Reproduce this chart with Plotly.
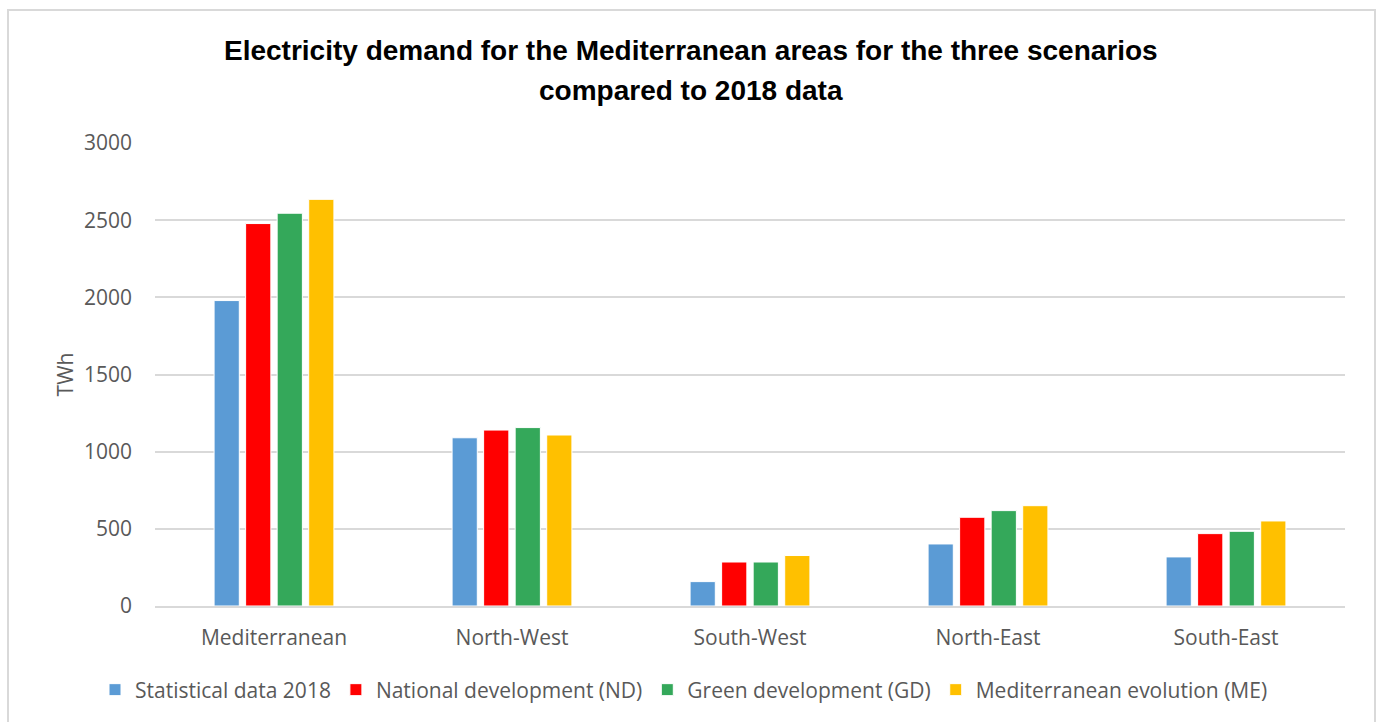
import plotly.graph_objects as go

# Regions and demand (TWh) per scenario
regions = ["Mediterranean", "North-West", "South-West", "North-East", "South-East"]
stat_2018 = [1979, 1090, 158, 402, 318]
national_dev = [2478, 1140, 285, 575, 469]
green_dev = [2545, 1156, 285, 618, 484]
med_evolution = [2635, 1108, 327, 650, 551]

series_names = [
    "Statistical data 2018",
    "National development (ND)",
    "Green development (GD)",
    "Mediterranean evolution (ME)",
]
series_values = [stat_2018, national_dev, green_dev, med_evolution]
series_colors = ["#5b9bd5", "#ff0000", "#34a85a", "#ffc000"]

y_ticks = [0, 500, 1000, 1500, 2000, 2500, 3000]

title_lines = [
    "Electricity demand for the Mediterranean areas for the three scenarios",
    "compared to 2018 data",
]

W, H = 1379, 722
ML, MR, MT, MB = 155, 34, 143, 116

fig = go.Figure()
for name, vals, col in zip(series_names, series_values, series_colors):
    fig.add_trace(go.Bar(
        x=regions, y=vals, name=name,
        marker=dict(color=col, line=dict(color="white", width=1)),
    ))

pw = W - ML - MR
ph = H - MT - MB


def px_x(p):
    return (p - ML) / pw


def px_y(p):
    return (H - MB - p) / ph


# light outer frame around the chart
fig.add_shape(
    type="rect", xref="paper", yref="paper",
    x0=px_x(8), x1=px_x(1375), y0=px_y(730), y1=px_y(10),
    line=dict(color="#d9d9d9", width=2), fillcolor="rgba(0,0,0,0)",
    layer="below",
)

# two-line chart title
for line, ypix in zip(title_lines, [50, 90]):
    fig.add_annotation(
        text="<b>" + line + "</b>", showarrow=False,
        xref="paper", yref="paper", x=px_x(691), y=px_y(ypix),
        xanchor="center", yanchor="middle",
        font=dict(family="Arial, Liberation Sans, sans-serif", size=28, color="black"),
    )

fig.update_layout(
    width=W, height=H,
    margin=dict(l=ML, r=MR, t=MT, b=MB),
    paper_bgcolor="white", plot_bgcolor="white",
    barmode="group", bargap=0.47, bargroupgap=0.2,
    font=dict(family="Open Sans, sans-serif", color="#595959"),
    xaxis=dict(
        showgrid=False, showline=True, linecolor="#d9d9d9", linewidth=1.5,
        tickfont=dict(size=21, color="#595959"), ticks="",
        ticklabelstandoff=12,
    ),
    yaxis=dict(
        range=[0, 3000], tickvals=y_ticks,
        showgrid=True, gridcolor="#d9d9d9", gridwidth=1.5,
        zeroline=False, showline=False,
        tickfont=dict(size=21, color="#595959"), ticks="",
        ticklabelstandoff=22,
        title=dict(text="TWh", font=dict(size=21, color="#595959"), standoff=4),
    ),
    legend=dict(
        orientation="h", x=px_x(95), xanchor="left",
        y=px_y(690), yanchor="middle",
        font=dict(size=21, color="#595959"),
        itemwidth=30, traceorder="normal",
    ),
)

fig.write_html("out.html")
